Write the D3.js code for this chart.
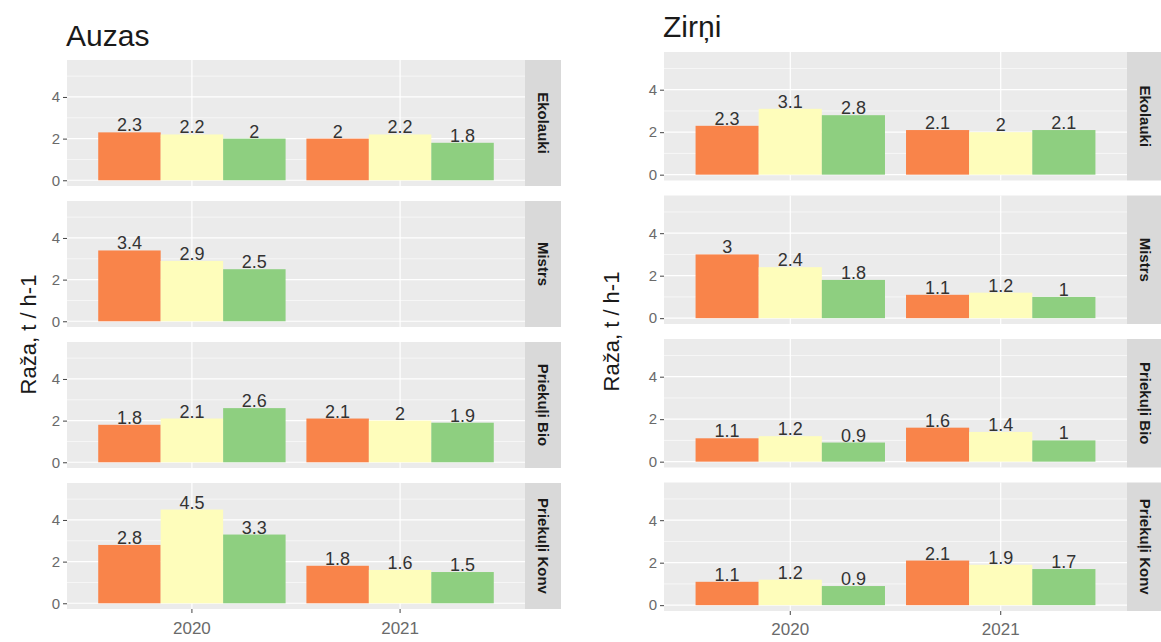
<!DOCTYPE html>
<html>
<head>
<meta charset="utf-8">
<script src="https://cdn.jsdelivr.net/npm/d3@7"></script>
<style>
  body { margin: 0; background: #fff; }
  svg { font-family: "Liberation Sans", Arial, sans-serif; display: block; }
</style>
</head>
<body>
<div id="chart-container"></div>
<script>
// facets, years and the three series (colour order in each group)
const facets = ["Ekolauki", "Mistrs", "Priekuļi Bio", "Priekuļi Konv"];
const years = ["2020", "2021"];
const seriesKeys = ["s1", "s2", "s3"];
const seriesColors = ["#f9844a", "#fefdbb", "#8ecf80"];
const yTicks = [0, 2, 4];
const yMinor = [1, 3, 5];

// values per facet: [2020 values, 2021 values]
const auzasValues = [
  [[2.3, 2.2, 2.0], [2.0, 2.2, 1.8]],
  [[3.4, 2.9, 2.5], null],
  [[1.8, 2.1, 2.6], [2.1, 2.0, 1.9]],
  [[2.8, 4.5, 3.3], [1.8, 1.6, 1.5]]
];
const zirniValues = [
  [[2.3, 3.1, 2.8], [2.1, 2.0, 2.1]],
  [[3.0, 2.4, 1.8], [1.1, 1.2, 1.0]],
  [[1.1, 1.2, 0.9], [1.6, 1.4, 1.0]],
  [[1.1, 1.2, 0.9], [2.1, 1.9, 1.7]]
];

const width = 1161, height = 642;
const svg = d3.select("#chart-container").append("svg")
  .attr("width", width).attr("height", height);

function toRows(values) {
  const rows = [];
  values.forEach((byYear, fi) => {
    byYear.forEach((vals, yi) => {
      if (!vals) return;
      vals.forEach((v, si) => rows.push({facet: facets[fi], year: years[yi], key: seriesKeys[si], value: v}));
    });
  });
  return rows;
}

function drawChart(cfg) {
  const rows = toRows(cfg.values);
  const g = svg.append("g");

  const x = d3.scaleBand().domain(years)
    .range([cfg.left, cfg.right])
    .paddingInner(0.1).paddingOuter(0.15);
  const xs = d3.scaleBand().domain(seriesKeys).range([0, x.bandwidth()]);
  const color = d3.scaleOrdinal().domain(seriesKeys).range(seriesColors);

  // title
  g.append("text")
    .attr("x", cfg.left - 1).attr("y", cfg.titleY)
    .style("font-size", "30px").style("fill", "#1a1a1a")
    .text(cfg.title);

  // y-axis title
  g.append("text")
    .attr("transform", `translate(${cfg.yTitleX},${(cfg.top + cfg.top + 4 * cfg.ph + 3 * cfg.gap) / 2}) rotate(-90)`)
    .attr("text-anchor", "middle")
    .style("font-size", "22px").style("fill", "#1a1a1a")
    .text("Raža, t / h-1");

  facets.forEach((f, i) => {
    const top = cfg.top + i * (cfg.ph + cfg.gap);
    const y = d3.scaleLinear().domain([-0.275, 5.775]).range([top + cfg.ph, top]);
    const p = g.append("g");

    p.append("rect")
      .attr("x", cfg.left).attr("y", top)
      .attr("width", cfg.right - cfg.left).attr("height", cfg.ph)
      .attr("fill", "#ebebeb");

    p.selectAll(".minor").data(yMinor).join("line")
      .attr("x1", cfg.left).attr("x2", cfg.right)
      .attr("y1", d => y(d)).attr("y2", d => y(d))
      .attr("stroke", "#fff").attr("stroke-width", 0.6);
    p.selectAll(".major").data(yTicks).join("line")
      .attr("x1", cfg.left).attr("x2", cfg.right)
      .attr("y1", d => y(d)).attr("y2", d => y(d))
      .attr("stroke", "#fff").attr("stroke-width", 1.2);
    p.selectAll(".vmajor").data(years).join("line")
      .attr("x1", d => x(d) + x.bandwidth() / 2).attr("x2", d => x(d) + x.bandwidth() / 2)
      .attr("y1", top).attr("y2", top + cfg.ph)
      .attr("stroke", "#fff").attr("stroke-width", 1.2);

    const fr = rows.filter(r => r.facet === f);
    p.selectAll("rect.bar").data(fr).join("rect")
      .attr("class", "bar")
      .attr("x", d => x(d.year) + xs(d.key))
      .attr("y", d => y(d.value))
      .attr("width", xs.bandwidth())
      .attr("height", d => y(0) - y(d.value))
      .attr("fill", d => color(d.key));

    p.selectAll("text.val").data(fr).join("text")
      .attr("class", "val")
      .attr("x", d => x(d.year) + xs(d.key) + xs.bandwidth() / 2)
      .attr("y", d => y(d.value) - 1)
      .attr("text-anchor", "middle")
      .style("font-size", "18px").style("fill", "#333")
      .text(d => d3.format("~g")(d.value));

    // y axis
    const ya = p.append("g")
      .attr("transform", `translate(${cfg.left},0)`)
      .call(d3.axisLeft(y).tickValues(yTicks).tickFormat(d3.format("d")).tickSize(4).tickPadding(3));
    ya.select(".domain").remove();
    ya.selectAll("line").attr("stroke", "#444");
    ya.selectAll("text").style("font-size", "15px").style("fill", "#6a6a6a").attr("font-family", null);

    // strip
    p.append("rect")
      .attr("x", cfg.right).attr("y", top)
      .attr("width", cfg.stripW).attr("height", cfg.ph)
      .attr("fill", "#d9d9d9");
    p.append("text")
      .attr("transform", `translate(${cfg.right + cfg.stripW / 2},${top + cfg.ph / 2}) rotate(90)`)
      .attr("text-anchor", "middle").attr("dy", "0.35em")
      .style("font-size", "15px").style("font-weight", "bold").style("fill", "#1a1a1a")
      .text(f);

    if (i === facets.length - 1) {
      const xa = p.append("g")
        .attr("transform", `translate(0,${top + cfg.ph})`)
        .call(d3.axisBottom(x).tickSize(4).tickPadding(cfg.xPad));
      xa.select(".domain").remove();
      xa.selectAll("line").attr("stroke", "#444");
      xa.selectAll("text").style("font-size", "17px").style("fill", "#6a6a6a").attr("font-family", null);
    }
  });
}

drawChart({title: "Auzas", values: auzasValues, left: 67, right: 525, stripW: 36,
  top: 60, ph: 126, gap: 15, titleY: 46, yTitleX: 36, xPad: 9});
drawChart({title: "Zirņi", values: zirniValues, left: 664, right: 1127, stripW: 36,
  top: 52, ph: 128.5, gap: 15, titleY: 37, yTitleX: 619, xPad: 8});
</script>
</body>
</html>
